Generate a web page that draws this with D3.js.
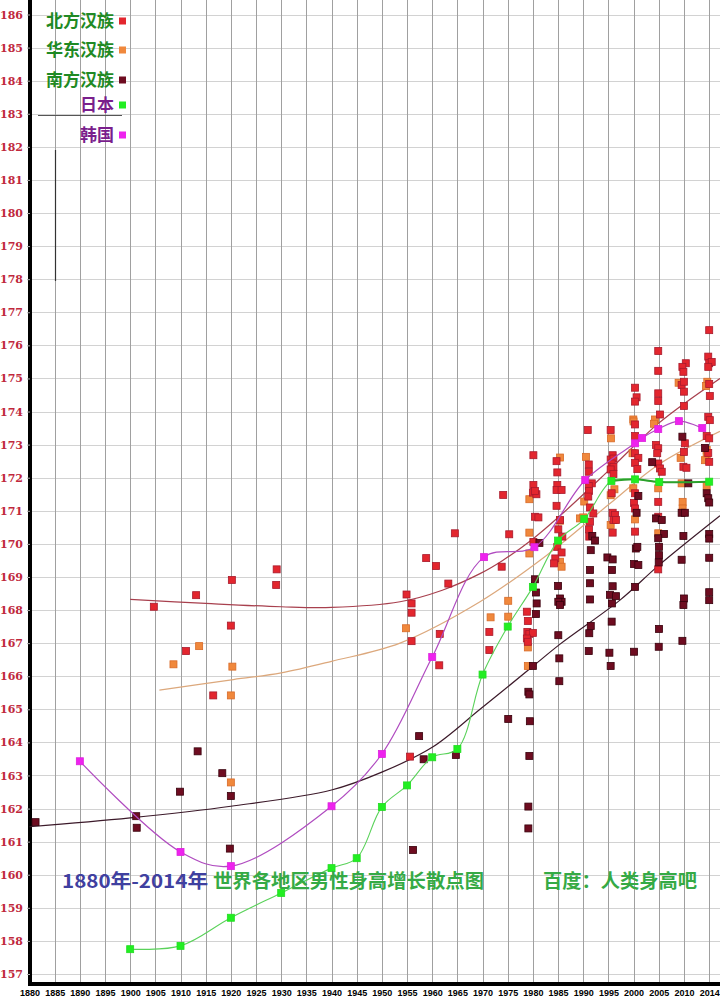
<!DOCTYPE html>
<html><head><meta charset="utf-8">
<script src="https://cdn.jsdelivr.net/npm/d3@7/dist/d3.min.js"></script>
<style>body{margin:0;background:#fff}svg{display:block}</style>
</head><body>
<svg id="c" width="720" height="1008"></svg>
<script>
// ---------- data ----------
const xTickLabels = [1880,1885,1890,1895,1900,1905,1910,1915,1920,1925,1930,1935,1940,1945,1950,1955,1960,1965,1970,1975,1980,1985,1990,1995,2000,2005,2010,2014];
const yTickLabels = [157,158,159,160,161,162,163,164,165,166,167,168,169,170,171,172,173,174,175,176,177,178,179,180,181,182,183,184,185,186];

const seriesNames = ["北方汉族","华东汉族","南方汉族","日本","韩国"];

const northPts = [
[1904.7,168.1],[1911.1,166.76],[1913.1,168.45],[1916.5,165.42],[1920.2,168.91],[1920.0,167.53],[1929.1,169.23],[1929.0,168.76],
[1954.9,168.47],[1955.9,168.2],[1955.9,167.92],[1955.9,167.06],[1955.6,163.57],[1961.5,167.28],[1961.4,166.33],[1963.2,168.8],[1958.8,169.57],[1960.75,169.33],[1964.5,170.32],[1973.8,169.31],[1974.1,171.48],[1975.3,170.29],[1971.35,167.34],[1971.35,166.79],
[1980.1,172.68],[1980.1,171.78],[1980.0,171.55],[1980.7,171.5],[1980.4,171.6],[1980.4,170.82],[1981.1,170.8],[1980.1,170.06],[1978.8,167.95],[1979.0,167.67],[1978.9,167.34],[1979.3,167.28],[1980.0,167.31],[1978.8,167.14],[1979.0,167.04],
[1984.7,172.5],[1984.85,172.16],[1984.85,171.78],[1984.7,171.63],[1985.7,171.63],[1984.7,171.15],[1985.4,170.72],[1985.05,170.44],[1985.85,170.22],[1984.85,169.91],[1985.7,169.74],[1984.45,169.56],[1984.2,169.41],
[1990.9,173.44],[1991.1,172.4],[1991.1,172.18],[1991.7,171.83],[1991.1,171.75],[1991.15,171.6],[1991.0,171.43],[1991.35,171.1],[1992.0,170.92],[1991.35,170.67],[1991.15,170.44],[1991.2,170.22],
[1995.45,173.44],[1995.85,172.68],[1995.45,172.55],[1996.0,172.58],[1995.65,172.43],[1996.0,172.33],[1995.45,172.25],[1996.0,172.11],[1995.65,171.53],[1995.85,170.94],[1996.3,170.87],[1996.0,170.72],[1996.5,170.72],[1995.85,170.34],
[2000.3,174.72],[2000.6,174.43],[2000.3,174.3],[2000.3,173.61],[2000.3,173.26],[2000.3,172.74],[2000.95,172.6],[2000.3,172.45],[2000.75,172.26],[2000.3,171.53],[2000.1,171.24],[2000.3,171.07],[2000.3,170.37],
[2004.9,175.83],[2004.9,175.23],[2004.9,174.55],[2004.9,174.32],[2005.25,173.91],[2004.45,172.99],[2004.9,172.89],[2004.7,172.74],[2004.9,172.43],[2005.25,172.28],[2005.6,172.18],[2004.9,171.27],[2004.9,170.82],[2004.9,169.23],
[2010.3,175.46],[2009.7,175.35],[2009.9,175.2],[2009.55,174.8],[2010.0,174.9],[2010.0,174.6],[2010.0,174.17],[2010.15,173.04],[2010.0,172.78],[2009.9,172.33],[2010.4,172.3],
[2014.0,176.46],[2013.85,175.66],[2014.0,175.46],[2014.4,175.5],[2013.85,175.35],[2014.0,174.83],[2014.1,174.47],[2013.85,173.84],[2014.1,173.74],[2013.6,173.26],[2014.0,173.19],[2013.85,172.75],[2014.0,172.48]
];

const eastPts = [
[1908.6,166.36],[1913.7,166.91],[1920.3,166.29],[1920.0,165.42],[1920.0,162.79],
[1954.8,167.45],[1971.6,167.78],[1975.1,168.28],[1975.1,167.8],
[1979.3,171.35],[1979.3,170.34],[1979.3,169.71],[1979.0,166.87],[1979.0,166.31],
[1985.4,172.61],[1985.4,170.7],[1985.4,169.46],[1985.7,169.31],
[1990.55,172.63],[1990.2,171.28],[1989.35,170.77],[1990.0,170.8],
[1995.5,173.19],[1996.2,171.65],[1995.45,171.47],[1995.45,170.57],
[1999.95,173.76],[2000.0,173.7],[1999.8,172.74],[1999.95,171.68],[2000.3,170.74],
[2004.25,173.76],[2004.05,173.63],[2004.9,171.68],[2004.9,170.32],
[2008.95,174.87],[2009.35,172.6],[2009.55,171.83],[2009.75,171.27],[2009.75,171.07],
[2013.7,174.9],[2013.5,174.77],[2013.6,172.84],[2013.6,172.65],[2013.35,172.53],[2013.6,171.75]
];

const southPts = [
[1881.2,161.59],[1901.2,161.77],[1901.3,161.42],[1909.9,162.51],[1913.4,163.73],[1918.3,163.07],[1920.0,162.38],[1919.8,160.79],
[1957.4,164.19],[1958.3,163.49],[1964.7,163.62],[1956.2,160.75],[1975.1,164.71],
[1981.3,170.03],[1980.4,168.93],[1980.6,168.53],[1980.75,168.2],[1980.6,167.88],[1980.0,166.31],[1979.1,165.53],[1979.3,165.45],[1979.4,164.64],[1979.3,163.59],[1979.1,162.06],[1979.1,161.4],
[1985.0,168.73],[1985.4,168.35],[1985.7,168.25],[1985.05,168.25],[1985.4,168.15],[1985.05,167.24],[1985.25,166.54],[1985.25,165.85],
[1991.8,170.24],[1992.35,170.1],[1991.5,169.81],[1991.35,169.21],[1991.35,168.81],[1991.35,168.32],[1991.5,167.52],[1991.2,167.3],[1991.1,166.76],
[1994.8,169.59],[1995.85,169.53],[1995.7,169.21],[1995.85,168.72],[1995.3,168.46],[1996.5,168.42],[1995.7,168.2],[1995.65,167.65],[1995.2,166.71],[1995.45,166.31],
[2000.95,171.45],[2000.6,170.94],[2000.45,169.86],[2000.75,169.91],[2000.1,169.39],[2000.95,169.36],[2000.3,168.7],[2000.1,166.74],
[2003.7,172.47],[2004.45,170.77],[2005.6,170.72],[2006.05,170.3],[2004.9,170.17],[2005.05,169.91],[2005.05,169.66],[2005.0,169.44],[2005.05,167.43],[2005.0,166.89],
[2009.7,173.24],[2010.7,171.83],[2009.55,170.94],[2010.15,170.94],[2009.9,170.24],[2009.55,169.52],[2010.0,168.35],[2009.9,168.15],[2009.7,167.07],
[2013.35,172.9],[2013.6,171.53],[2013.85,171.38],[2014.0,171.25],[2014.0,170.3],[2014.0,170.16],[2014.0,169.58],[2014.0,168.54],[2014.0,168.3]
];

const japanPts = [[1900,157.75],[1910,157.85],[1920,158.7],[1930,159.45],[1940,160.2],[1945,160.5],[1950,162.05],[1955,162.7],[1960,163.55],[1965,163.8],[1970,166.05],[1975,167.5],[1980,168.7],[1985,170.1],[1990.2,170.75],[1995.6,171.9],[2000.3,171.95],[2005.1,171.87],[2014,171.88]];
const koreaPts = [[1890,163.43],[1910,160.69],[1920,160.26],[1940,162.07],[1950,163.65],[1960,166.58],[1970.3,169.6],[1980.3,169.9],[1990.4,171.93],[2000.3,173.04],[2001.7,173.2],[2004.9,173.47],[2009,173.71],[2012.9,173.5]];

// trend curves
const northTrend = [[1900,168.32],[1915,168.2],[1930,168.1],[1940,168.08],[1953.6,168.25],[1962,168.6],[1969.5,169.1],[1974,169.5],[1980,170.15],[1985.4,170.85],[1995.3,172.25],[2005,173.65],[2015.7,175.0]];
const eastTrend = [[1905.8,165.58],[1920.5,165.9],[1930,166.1],[1940,166.45],[1953.6,167.0],[1969.5,168.25],[1982.7,169.65],[1995.3,171.22],[2005,172.4],[2015.7,173.4]];
const southTrend = [[1880,161.45],[1900,161.72],[1920,162.07],[1940,162.56],[1950,163.1],[1960,163.85],[1969.5,165.0],[1980,166.3],[1985.4,166.97],[1997.3,168.3],[2005,169.35],[2015.7,170.85]];

// ---------- drawing ----------
const svg = d3.select("#c");
const x = d3.scaleLinear().domain([1880, 2010, 2014]).range([29.5, 683.9, 709.2]);
const y = d3.scaleLinear().domain([157, 186]).range([974, 14.5]);
const W = 720, bottom = 984;

svg.append("rect").attr("width",720).attr("height",1008).attr("fill","#fff");

// horizontal grid
svg.append("g").selectAll("line").data(yTickLabels).join("line")
  .attr("x1",30).attr("x2",W).attr("y1",d=>Math.round(y(d))+0.5).attr("y2",d=>Math.round(y(d))+0.5)
  .attr("stroke","#d2d2d2").attr("stroke-width",1);
// vertical grid
svg.append("g").selectAll("line").data(xTickLabels).join("line")
  .attr("x1",d=>Math.round(x(d))+0.5).attr("x2",d=>Math.round(x(d))+0.5).attr("y1",0).attr("y2",bottom)
  .attr("stroke","#a0a0a0").attr("stroke-width",1);

// small artefact strokes near the legend
svg.append("line").attr("x1",38).attr("x2",122).attr("y1",115.5).attr("y2",115.5).attr("stroke","#555").attr("stroke-width",1);
svg.append("line").attr("x1",55.5).attr("x2",55.5).attr("y1",150).attr("y2",281).attr("stroke","#333").attr("stroke-width",1.2);

// axes
svg.append("line").attr("x1",30).attr("x2",30).attr("y1",0).attr("y2",bottom+2).attr("stroke","#000").attr("stroke-width",4);
svg.append("line").attr("x1",28).attr("x2",W).attr("y1",bottom).attr("y2",bottom).attr("stroke","#000").attr("stroke-width",4);

const yAxis = svg.append("g").attr("transform","translate(30,0)")
  .call(d3.axisLeft(y).tickValues(yTickLabels).tickFormat(d3.format("d")).tickSize(3).tickPadding(4));
yAxis.select(".domain").remove();
yAxis.selectAll("line").attr("stroke","#aaa");
yAxis.selectAll("text").attr("fill","#c0283c").attr("font-family","'DejaVu Serif', serif")
  .attr("font-weight","bold").attr("font-size",11);

const xAxis = svg.append("g").attr("transform",`translate(0,${bottom+2})`)
  .call(d3.axisBottom(x).tickValues(xTickLabels).tickFormat(d3.format("d")).tickSize(0).tickPadding(4));
xAxis.select(".domain").remove();
xAxis.selectAll("text").attr("fill","#000").attr("font-family","'Liberation Sans', Arial, sans-serif")
  .attr("font-weight","bold").attr("font-size",9);

// trend lines
const curve = d3.line().x(d=>x(d[0])).y(d=>y(d[1])).curve(d3.curveCatmullRom.alpha(0.5));
svg.append("path").attr("d",curve(northTrend)).attr("fill","none").attr("stroke","#a8404e").attr("stroke-width",1.2);
svg.append("path").attr("d",curve(eastTrend)).attr("fill","none").attr("stroke","#dca87c").attr("stroke-width",1.2);
svg.append("path").attr("d",curve(southTrend)).attr("fill","none").attr("stroke","#3c1a2a").attr("stroke-width",1.2);

const S = 7;
function squares(data, fill, stroke){
  svg.append("g").selectAll("rect").data(data).join("rect")
    .attr("x",d=>x(d[0])-S/2).attr("y",d=>y(d[1])-S/2).attr("width",S).attr("height",S)
    .attr("fill",fill).attr("stroke",stroke).attr("stroke-width",0.8);
}
squares(eastPts,"#f0883c","#d86a28");
squares(northPts,"#e3262e","#a81a2c");
squares(southPts,"#6e0c20","#38000c");

// Japan and Korea
svg.append("path").attr("d",curve(japanPts)).attr("fill","none").attr("stroke","#5ad25a").attr("stroke-width",1.1);
svg.append("path").attr("d",curve(japanPts.slice(15))).attr("fill","none").attr("stroke","#2ca02c").attr("stroke-width",2);
svg.append("path").attr("d",curve(koreaPts)).attr("fill","none").attr("stroke","#b04cc0").attr("stroke-width",1.2);
squares(japanPts,"#22ee22","#22dd22");
squares(koreaPts,"#ee22ee","#dd22dd");

// legend
const legColors = ["#e3262e","#f0883c","#6e0c20","#22ee22","#ee22ee"];
const legText = ["#1f8a24","#1f8a24","#1f8a24","#7a1e8c","#7a1e8c"];
const legY = [21,50,80,105,135];
const leg = svg.append("g");
seriesNames.forEach((n,i)=>{
  leg.append("text").attr("x",114).attr("y",legY[i]+6).attr("text-anchor","end")
    .attr("font-family","'Noto Sans CJK SC', sans-serif").attr("font-weight","bold").attr("font-size",17)
    .attr("fill",legText[i]).text(n);
  leg.append("rect").attr("x",119).attr("y",legY[i]-3.5).attr("width",7).attr("height",7).attr("fill",legColors[i]);
});

// title
svg.append("text").attr("x",62).attr("y",888).attr("font-family","'Noto Sans CJK SC', sans-serif").attr("font-weight","bold")
  .attr("font-size",19).attr("fill","#3f40a0").attr("textLength",146).attr("lengthAdjust","spacingAndGlyphs").text("1880年-2014年");
svg.append("text").attr("x",213).attr("y",888).attr("font-family","'Noto Sans CJK SC', sans-serif").attr("font-weight","bold")
  .attr("font-size",19).attr("fill","#35aa45").attr("textLength",271).attr("lengthAdjust","spacingAndGlyphs").text("世界各地区男性身高增长散点图");
svg.append("text").attr("x",543).attr("y",888).attr("font-family","'Noto Sans CJK SC', sans-serif").attr("font-weight","bold")
  .attr("font-size",19).attr("fill","#35aa45").attr("textLength",154).attr("lengthAdjust","spacingAndGlyphs").text("百度：人类身高吧");
</script>
</body></html>
